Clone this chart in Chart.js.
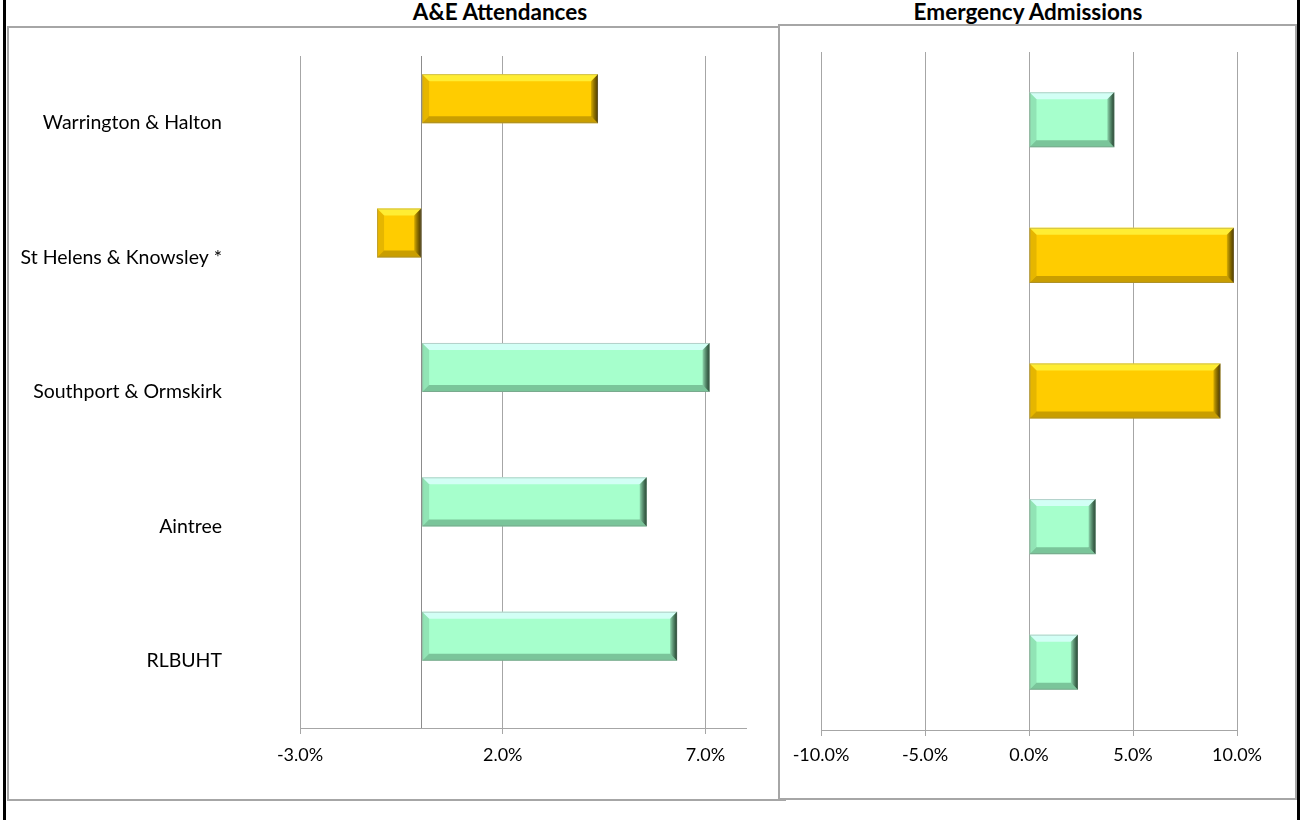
<!DOCTYPE html>
<html>
<head>
<meta charset="utf-8">
<script src="https://cdn.jsdelivr.net/npm/chart.js@4.4.0/dist/chart.umd.min.js"></script>
<style>
  html, body { margin:0; padding:0; background:#fff; width:1302px; height:820px; overflow:hidden; }
  .abs { position:absolute; }
  #blackL { left:3px; top:0; width:3px; height:820px; background:#000; }
  #blackR { left:1297px; top:0; width:3px; height:820px; background:#000; }
  #boxL { left:7px; top:26px; width:775px; height:771px; border:2px solid #a6a6a6; background:#fff; }
  #boxR { left:778px; top:24px; width:515px; height:772px; border:2px solid #a6a6a6; background:#fff; }
  .title { font-family: Lato, "Open Sans", sans-serif; font-weight:bold; font-size:22.5px; color:#000; top:0px; height:24px; line-height:24px; text-align:center; white-space:nowrap; }
  #tL { left:380px; width:240px; }
  #tR { left:898px; width:260px; }
</style>
</head>
<body>
<div id="blackL" class="abs"></div>
<div id="blackR" class="abs"></div>
<div id="boxL" class="abs"></div>
<div id="boxR" class="abs"></div>
<div id="tL" class="abs title">A&amp;E Attendances</div>
<div id="tR" class="abs title">Emergency Admissions</div>
<div class="abs" style="left:8px;top:27px;width:770px;height:771px;"><canvas id="c1" width="770" height="771"></canvas></div>
<div class="abs" style="left:779px;top:25px;width:516px;height:773px;"><canvas id="c2" width="516" height="773"></canvas></div>
<script>
// ---- data ----
const categories = ["Warrington & Halton", "St Helens & Knowsley *", "Southport & Ormskirk", "Aintree", "RLBUHT"];
const aeAttendances = [4.35, -1.1, 7.1, 5.55, 6.3];
const emergencyAdmissions = [4.1, 9.85, 9.2, 3.2, 2.35];
const aeColours = ["gold", "gold", "mint", "mint", "mint"];
const eaColours = ["mint", "gold", "gold", "mint", "mint"];
const aeTicks = [-3, 0, 2, 7];
const eaTicks = [-10, -5, 0, 5, 10];

const PAL = {
  gold: { base:"#FFCC00", light:"rgba(255,242,60,0.85)", dark:"rgba(120,90,0,0.40)", side:"rgba(60,45,0,0.9)", left:"rgba(140,105,0,0.22)" },
  mint: { base:"#A6FFCC", light:"rgba(215,255,250,0.9)", dark:"rgba(40,90,60,0.35)", side:"rgba(20,50,30,0.9)", left:"rgba(40,90,60,0.16)" }
};
const FONT = 'Lato, "Open Sans", sans-serif';

const bevelPlugin = {
  id: 'bevel',
  afterDatasetsDraw(chart) {
    const ctx = chart.ctx;
    chart.data.datasets.forEach((ds, di) => {
      const meta = chart.getDatasetMeta(di);
      if (!ds.paletteKeys) return;
      meta.data.forEach((bar, i) => {
        const v = ds.data[i];
        if (v === null || v === undefined) return;
        const p = PAL[ds.paletteKeys[i]];
        const x1 = Math.min(bar.x, bar.base), x2 = Math.max(bar.x, bar.base);
        const y1 = bar.y - bar.height / 2, y2 = bar.y + bar.height / 2;
        const b = Math.min(7, (x2 - x1) / 2, (y2 - y1) / 2);
        ctx.save();
        ctx.fillStyle = p.light;
        ctx.beginPath(); ctx.moveTo(x1, y1); ctx.lineTo(x2, y1); ctx.lineTo(x2 - b, y1 + b); ctx.lineTo(x1 + b, y1 + b); ctx.closePath(); ctx.fill();
        ctx.fillStyle = p.dark;
        ctx.beginPath(); ctx.moveTo(x1, y2); ctx.lineTo(x2, y2); ctx.lineTo(x2 - b, y2 - b); ctx.lineTo(x1 + b, y2 - b); ctx.closePath(); ctx.fill();
        ctx.fillStyle = p.left;
        ctx.beginPath(); ctx.moveTo(x1, y1); ctx.lineTo(x1 + b, y1 + b); ctx.lineTo(x1 + b, y2 - b); ctx.lineTo(x1, y2); ctx.closePath(); ctx.fill();
        const g = ctx.createLinearGradient(x2 - b, 0, x2, 0);
        g.addColorStop(0, 'rgba(0,0,0,0.15)'); g.addColorStop(1, p.side);
        ctx.fillStyle = g;
        ctx.beginPath(); ctx.moveTo(x2, y1); ctx.lineTo(x2 - b, y1 + b); ctx.lineTo(x2 - b, y2 - b); ctx.lineTo(x2, y2); ctx.closePath(); ctx.fill();
        ctx.strokeStyle = 'rgba(120,120,120,0.35)'; ctx.lineWidth = 1;
        ctx.strokeRect(x1 + 0.5, y1 + 0.5, x2 - x1 - 1, y2 - y1 - 1);
        ctx.restore();
      });
    });
  }
};

function pct(v) { return v.toFixed(1) + '%'; }

// ---- left chart ----
new Chart(document.getElementById('c1'), {
  type: 'bar',
  data: {
    labels: categories,
    datasets: [
      { data: aeAttendances, paletteKeys: aeColours, backgroundColor: aeColours.map(k => PAL[k].base), borderWidth: 0, categoryPercentage: 0.73, barPercentage: 1 },
      { data: categories.map(() => null), backgroundColor: 'rgba(0,0,0,0)', borderWidth: 0, categoryPercentage: 0.73, barPercentage: 1 }
    ]
  },
  options: {
    indexAxis: 'y',
    responsive: false,
    animation: false,
    layout: { padding: { top: 29, right: 32, left: 0, bottom: 0 } },
    plugins: { legend: { display: false }, tooltip: { enabled: false }, title: { display: false } },
    scales: {
      x: {
        min: -3, max: 8,
        afterBuildTicks(scale) { scale.ticks = aeTicks.map(v => ({ value: v })); },
        afterFit(scale) { scale.height = 70; },
        grid: {
          color: (c) => c.tick && c.tick.value === 0 ? '#8c8c8c' : '#a6a6a6',
          tickColor: (c) => c.tick && c.tick.value === 0 ? 'rgba(0,0,0,0)' : '#a6a6a6',
          tickLength: 6, lineWidth: 1, drawOnChartArea: true
        },
        border: { display: true, color: '#a6a6a6', width: 1 },
        ticks: { callback: (v) => v === 0 ? '' : pct(v), color: '#000', font: { family: FONT, size: 18 }, padding: 10, maxRotation: 0, autoSkip: false }
      },
      y: {
        afterFit(scale) { scale.width = 292; },
        grid: { display: true, drawOnChartArea: false, drawTicks: true, tickLength: 78, tickColor: 'rgba(0,0,0,0)', color: 'rgba(0,0,0,0)' },
        border: { display: false },
        ticks: { color: '#000', font: { family: FONT, size: 19.5 }, padding: 0 }
      }
    }
  },
  plugins: [bevelPlugin]
});

// ---- right chart ----
new Chart(document.getElementById('c2'), {
  type: 'bar',
  data: {
    labels: categories,
    datasets: [
      { data: emergencyAdmissions, paletteKeys: eaColours, backgroundColor: eaColours.map(k => PAL[k].base), borderWidth: 0, categoryPercentage: 0.406, barPercentage: 1 }
    ]
  },
  options: {
    indexAxis: 'y',
    responsive: false,
    animation: false,
    layout: { padding: { top: 27, right: 58, left: 42, bottom: 0 } },
    plugins: { legend: { display: false }, tooltip: { enabled: false }, title: { display: false } },
    scales: {
      x: {
        min: -10, max: 10,
        afterBuildTicks(scale) { scale.ticks = eaTicks.map(v => ({ value: v })); },
        afterFit(scale) { scale.height = 68; },
        grid: { color: '#a6a6a6', tickColor: '#a6a6a6', tickLength: 6, lineWidth: 1 },
        border: { display: true, color: '#a6a6a6', width: 1 },
        ticks: { callback: (v) => pct(v), color: '#000', font: { family: FONT, size: 18 }, padding: 8, maxRotation: 0, autoSkip: false }
      },
      y: { display: false }
    }
  },
  plugins: [bevelPlugin]
});
</script>
</body>
</html>
